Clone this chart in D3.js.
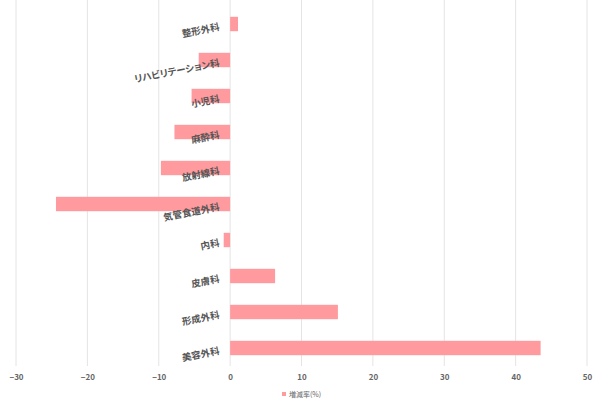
<!DOCTYPE html>
<html><head><meta charset="utf-8">
<script src="https://cdn.jsdelivr.net/npm/d3@7"></script>
<style>body{margin:0;background:#fff}svg{display:block}.lbl{font-feature-settings:"palt" 1}</style>
</head><body>
<svg id="c" width="600" height="401"></svg>
<script>
const categories = ["整形外科","リハビリテーション科","小児科","麻酔科","放射線科","気管食道外科","内科","皮膚科","形成外科","美容外科"];
const values = [1.1, -4.4, -5.4, -7.8, -9.7, -24.4, -0.9, 6.3, 15.1, 43.5];
const ticks = [-30,-20,-10,0,10,20,30,40,50];
const seriesName = "増減率(%)";

const svg = d3.select("#c");
const x = d3.scaleLinear().domain([-30,50]).range([16,587]);
const y = d3.scaleBand().domain(categories).range([6,366]).paddingInner(0.6).paddingOuter(0.3);
const color = "#ff9a9e";
const font = "'Noto Sans CJK JP','Noto Sans',sans-serif";

// gridlines
svg.append("g").selectAll("line").data(ticks).join("line")
  .attr("x1", d=>x(d)).attr("x2", d=>x(d)).attr("y1",0).attr("y2",366)
  .attr("stroke","#e4e4e4").attr("stroke-width",1);

// bars
svg.append("g").selectAll("rect").data(categories).join("rect")
  .attr("x", (d,i)=>Math.min(x(0), x(values[i])))
  .attr("width", (d,i)=>Math.abs(x(values[i])-x(0)))
  .attr("y", d=>y(d)).attr("height", y.bandwidth())
  .attr("fill", color);

// x axis
const xAxis = d3.axisBottom(x).tickValues(ticks).tickSize(0).tickPadding(0);
const gx = svg.append("g").attr("transform","translate(0,374)").call(xAxis);
gx.select(".domain").remove();
gx.selectAll("text").attr("font-family",font).attr("font-size",8).attr("font-weight","bold").attr("fill","#666");

// category labels
svg.append("g").selectAll("text").data(categories).join("text")
  .attr("class","lbl")
  .attr("transform", d=>`translate(220,${y(d)+y.bandwidth()/2+6}) rotate(-11)`)
  .attr("text-anchor","end")
  .attr("font-family",font).attr("font-size",9.5).attr("font-weight","bold").attr("fill","#555")
  .text(d=>d);

// legend
const lg = svg.append("g").attr("transform","translate(282,392)");
lg.append("rect").attr("width",4).attr("height",4).attr("fill",color);
lg.append("text").attr("x",7).attr("y",4.5).attr("font-family",font).attr("font-size",7).attr("fill","#666").text(seriesName);
</script>
</body></html>
